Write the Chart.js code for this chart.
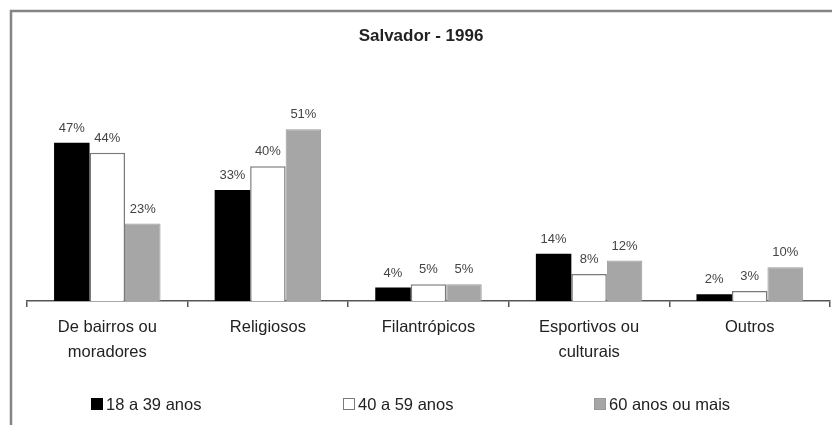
<!DOCTYPE html>
<html>
<head>
<meta charset="utf-8">
<script src="https://cdn.jsdelivr.net/npm/chart.js@4"></script>
<style>
  html, body { margin: 0; padding: 0; background: #fff; }
  .chart-box { position: relative; width: 832px; height: 425px; }
</style>
</head>
<body>
<div class="chart-box"><canvas id="chart"></canvas></div>
<script>
const categories = [
  ['De bairros ou', 'moradores'],
  'Religiosos',
  'Filantrópicos',
  ['Esportivos ou', 'culturais'],
  'Outros',
]
const seriesNames = ['18 a 39 anos', '40 a 59 anos', '60 anos ou mais']
const young = [47, 33, 4, 14, 2]
const middle = [44, 40, 5, 8, 3]
const older = [23, 51, 5, 12, 10]

const FONT = "'Liberation Sans', Arial, sans-serif"

// moldura, título, rótulos e legenda desenhados à mão
const decorPlugin = {
  id: 'decor',
  beforeDraw(chart) {
    const { ctx } = chart
    ctx.save()
    ctx.strokeStyle = '#858585'
    ctx.lineWidth = 2.5
    ctx.strokeRect(11, 11, 900, 500)
    ctx.restore()
  },
  afterDatasetsDraw(chart) {
    const { ctx } = chart
    ctx.save()
    ctx.font = `13px ${FONT}`
    ctx.fillStyle = '#444'
    ctx.textAlign = 'center'
    ctx.textBaseline = 'bottom'
    chart.data.datasets.forEach((ds, i) => {
      chart.getDatasetMeta(i).data.forEach((bar, j) => {
        ctx.fillText(`${ds.data[j]}%`, bar.x, bar.y - 8)
      })
    })
    ctx.restore()
  },
  afterDraw(chart) {
    const { ctx } = chart
    ctx.save()
    ctx.fillStyle = '#222'
    ctx.font = `bold 17px ${FONT}`
    ctx.textAlign = 'center'
    ctx.textBaseline = 'middle'
    ctx.fillText('Salvador - 1996', 421, 36)

    const startX = [91, 343, 594]
    ctx.font = `16.5px ${FONT}`
    ctx.textAlign = 'left'
    chart.data.datasets.forEach((ds, i) => {
      const x = startX[i]
      ctx.fillStyle = ds.backgroundColor
      ctx.fillRect(x, 398, 12, 12)
      if (ds.borderWidth) {
        ctx.strokeStyle = ds.borderColor
        ctx.lineWidth = 1
        ctx.strokeRect(x + 0.5, 398.5, 11, 11)
      }
      ctx.fillStyle = '#222'
      ctx.fillText(ds.label, x + 15, 405)
    })
    ctx.restore()
  },
}

new Chart(document.getElementById('chart'), {
  type: 'bar',
  data: {
    labels: categories,
    datasets: [
      { label: seriesNames[0], data: young, backgroundColor: '#000000', borderWidth: 0 },
      { label: seriesNames[1], data: middle, backgroundColor: '#ffffff', borderColor: '#7a7a7a', borderWidth: 1.5 },
      { label: seriesNames[2], data: older, backgroundColor: '#a6a6a6', borderColor: '#9a9a9a', borderWidth: 1 },
    ],
  },
  options: {
    responsive: true,
    maintainAspectRatio: false,
    animation: false,
    categoryPercentage: 0.663,
    barPercentage: 1,
    layout: { padding: { left: 27, right: 2, top: 99, bottom: 0 } },
    plugins: {
      legend: { display: false },
      title: { display: false },
      tooltip: { enabled: false },
    },
    scales: {
      x: {
        afterFit: (scale) => { scale.height = 124 },
        border: { color: '#555', width: 1.5 },
        grid: { drawOnChartArea: false, drawTicks: true, tickLength: 6, color: '#555', lineWidth: 1.5 },
        ticks: {
          color: '#222',
          padding: 8,
          maxRotation: 0,
          autoSkip: false,
          font: { family: FONT, size: 16.5, lineHeight: 1.5 },
        },
      },
      y: {
        display: false,
        min: 0,
        max: 60,
      },
    },
  },
  plugins: [decorPlugin],
})
</script>
</body>
</html>
